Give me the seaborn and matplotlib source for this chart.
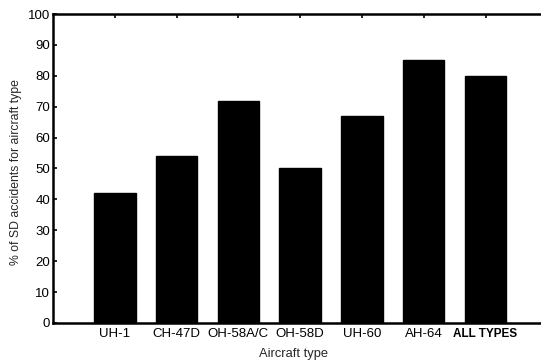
import matplotlib

matplotlib.use("Agg")

import matplotlib.pyplot as plt
import pandas as pd
import seaborn as sns

AIRCRAFT = ["UH-1", "CH-47D", "OH-58A/C", "OH-58D", "UH-60", "AH-64", "ALL TYPES"]
SD_PERCENT = [42, 54, 72, 50, 67, 85, 80]
Y_TICKS = list(range(0, 101, 10))

df = pd.DataFrame({"aircraft": AIRCRAFT, "pct": SD_PERCENT})

sns.set_theme(style="ticks")
plt.rcParams["font.family"] = ["Liberation Sans", "DejaVu Sans"]

fig = plt.figure(figsize=(5.41, 3.60), dpi=100)
ax = fig.add_axes([0.098, 0.103, 0.908, 0.858])

sns.barplot(data=df, x="aircraft", y="pct", color="black", width=0.67,
            saturation=1, edgecolor="black", ax=ax)

ax.set_xlim(-1, 6.95)
ax.set_ylim(0, 100)
ax.set_yticks(Y_TICKS)
ax.set_yticklabels([str(v) for v in Y_TICKS], fontsize=9.5)

ax.tick_params(axis="y", direction="in", length=3, width=1.2, pad=2, colors="black")
ax.tick_params(axis="x", direction="in", length=3, width=1.2, pad=4,
               top=True, bottom=True, colors="black", labelsize=9.5)
for lbl in ax.get_xticklabels():
    if lbl.get_text() == "ALL TYPES":
        lbl.set_fontweight("bold")
        lbl.set_fontsize(8.5)

for side in ["left", "bottom", "top"]:
    ax.spines[side].set_linewidth(1.8)
    ax.spines[side].set_color("black")
ax.spines["right"].set_visible(False)

ax.set_xlabel("Aircraft type", fontsize=9.3)
ax.xaxis.set_label_coords(0.49, -0.08)
ax.set_ylabel("% of SD accidents for aircraft type", fontsize=8.8)
ax.yaxis.set_label_coords(-0.063, 0.49)

fig.savefig("out.png", dpi=100, facecolor="white")
